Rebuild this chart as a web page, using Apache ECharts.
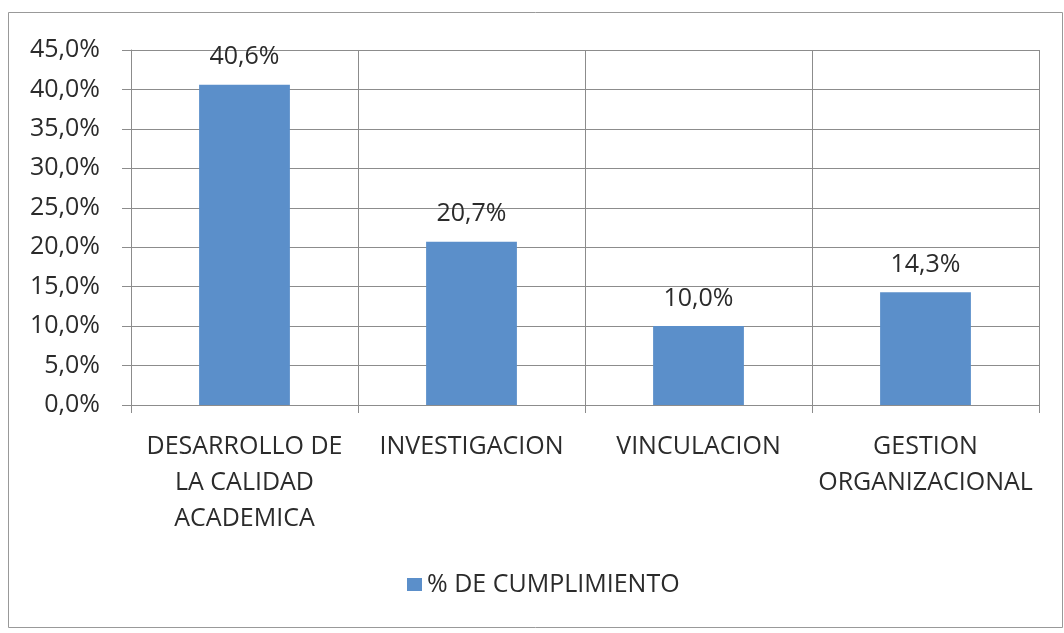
<!DOCTYPE html>
<html>
<head>
<meta charset="utf-8">
<script src="https://cdn.jsdelivr.net/npm/echarts@6/dist/echarts.min.js"></script>
<style>
  html, body { margin: 0; padding: 0; background: #fff; }
  #chart { width: 1064px; height: 633px; }
</style>
</head>
<body>
<div id="chart"></div>
<script>
// datos
const categories = [
    'DESARROLLO DE\nLA CALIDAD\nACADEMICA',
    'INVESTIGACION',
    'VINCULACION',
    'GESTION\nORGANIZACIONAL'
];
const cumplimiento = [40.6, 20.7, 10.0, 14.3];
const seriesName = '% DE CUMPLIMIENTO';

const fontFamily = '"Open Sans", Lato, sans-serif';
const fontSize = 25;
const textColor = '#2b2b2b';
const lineColor = '#8c8c8c';
const barColor = '#5b8fca';

const fmt = v => v.toFixed(1).replace('.', ',') + '%';

const chart = echarts.init(document.getElementById('chart'));

chart.setOption({
    backgroundColor: '#fff',
    animation: false,
    textStyle: { fontFamily: fontFamily },
    graphic: [{
        type: 'rect',
        shape: { x: 8.5, y: 12.5, width: 1054, height: 615 },
        style: { fill: 'none', stroke: '#999', lineWidth: 1 },
        silent: true
    }],
    grid: { left: 131, top: 50, width: 908, height: 355 },
    legend: {
        data: [seriesName],
        left: 402,
        top: 567,
        itemWidth: 15,
        itemHeight: 13,
        itemGap: 8,
        icon: 'rect',
        textStyle: { fontSize: fontSize, color: textColor, fontFamily: fontFamily }
    },
    xAxis: {
        type: 'category',
        data: categories,
        axisLine: { lineStyle: { color: lineColor } },
        axisTick: { show: true, length: 8, lineStyle: { color: lineColor } },
        splitLine: { show: true, lineStyle: { color: lineColor } },
        axisLabel: {
            color: textColor,
            fontSize: fontSize,
            lineHeight: 36,
            margin: 24,
            interval: 0,
            fontFamily: fontFamily
        }
    },
    yAxis: {
        type: 'value',
        min: 0,
        max: 45,
        interval: 5,
        axisLine: { show: true, lineStyle: { color: lineColor } },
        axisTick: { show: true, length: 9, lineStyle: { color: lineColor } },
        splitLine: { show: true, lineStyle: { color: lineColor } },
        axisLabel: {
            color: textColor,
            fontSize: fontSize,
            margin: 31,
            fontFamily: fontFamily,
            formatter: v => fmt(v)
        }
    },
    series: [{
        name: seriesName,
        type: 'bar',
        data: cumplimiento,
        barCategoryGap: '60%',
        itemStyle: { color: barColor },
        label: {
            show: true,
            position: 'top',
            distance: 15,
            color: textColor,
            fontSize: fontSize,
            fontFamily: fontFamily,
            formatter: p => fmt(p.value)
        }
    }]
});
</script>
</body>
</html>
